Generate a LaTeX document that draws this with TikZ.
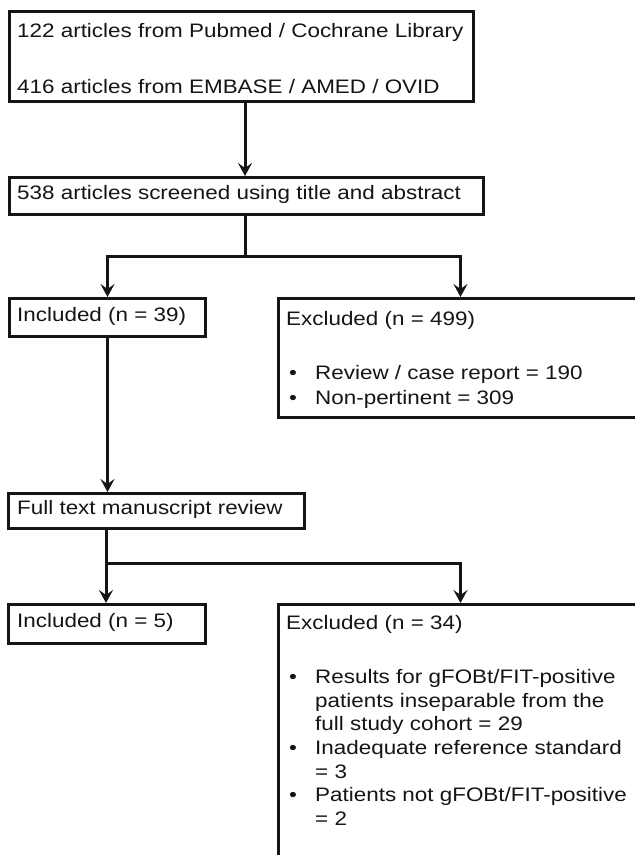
\documentclass[tikz,border=0pt]{standalone}
\usepackage{fontspec}
\setmainfont{Liberation Sans}[FakeStretch=1.15]
\usetikzlibrary{arrows.meta}
\definecolor{ink}{HTML}{151515}
\begin{document}
\begin{tikzpicture}[x=1pt,y=-1pt,
  box/.style={draw=ink, line width=3pt, rectangle, inner sep=0pt, anchor=north west},
  txt/.style={text=ink, inner sep=0pt, align=left, font=\fontsize{19.5}{24}\selectfont},
  conn/.style={draw=ink, line width=3pt, line join=miter},
  arr/.style={conn, -{Stealth[length=13pt,width=14pt,inset=5pt]}}]
\fill[white] (0,0) rectangle (635,855);
\useasboundingbox (0,0) rectangle (635,855);
\clip (0,0) rectangle (635,855);

% boxes
\node[box, minimum width=464pt, minimum height=90pt]  (b1)   at (8,10)   {};
\node[box, minimum width=474pt, minimum height=37pt]  (b2)   at (8,176)  {};
\node[box, minimum width=196pt, minimum height=38pt]  (inc1) at (8,297)  {};
\node[box, minimum width=364pt, minimum height=119pt] (exc1) at (277,297) {};
\node[box, minimum width=296pt, minimum height=35pt]  (full) at (7,492)  {};
\node[box, minimum width=197pt, minimum height=39pt]  (inc2) at (7,603)  {};
\node[box, minimum width=364pt, minimum height=297pt] (exc2) at (277,603) {};

% texts
\node[txt, anchor=west] (t1) at (17,59) {122 articles from Pubmed / Cochrane Library\\[32pt]416 articles from EMBASE / AMED / OVID};
\node[txt, anchor=west] (t2) at (17,194.5) {538 articles screened using title and abstract};
\node[txt, anchor=west] (t3) at (17,316) {Included (n = 39)};
\node[txt, anchor=north west] (t4) at (286,311) {Excluded (n = 499)};
\node[txt, anchor=north west, font=\fontsize{19.5}{25}\selectfont] (t5) at (289,365)
  {\makebox[26pt][l]{•}Review / case report = 190\\\makebox[26pt][l]{•}Non-pertinent = 309};
\node[txt, anchor=west] (t6) at (17,509.5) {Full text manuscript review};
\node[txt, anchor=west] (t7) at (17,622.5) {Included (n = 5)};
\node[txt, anchor=north west] (t8) at (286,615) {Excluded (n = 34)};
\node[txt, anchor=north west, font=\fontsize{19.5}{23.7}\selectfont] (t9) at (289,669)
  {\makebox[26pt][l]{•}Results for gFOBt/FIT-positive\\
   \hspace*{26pt}patients inseparable from the\\
   \hspace*{26pt}full study cohort = 29\\
   \makebox[26pt][l]{•}Inadequate reference standard\\
   \hspace*{26pt}= 3\\
   \makebox[26pt][l]{•}Patients not gFOBt/FIT-positive\\
   \hspace*{26pt}= 2};

% connectors
\coordinate (x1) at (245,0);
\coordinate (s1) at (245,256);
\coordinate (s2) at (106,563);
\draw[arr] (b1.south -| x1) -- (b2.north -| x1);
\draw[conn] (b2.south -| s1) -- (s1);
\draw[arr] (s1) -| (inc1.north);
\draw[arr] (s1) -| (exc1.north);
\draw[arr] (inc1.south) -- (inc1.south |- full.north);
\draw[conn] (full.south -| s2) -- (s2);
\draw[arr] (s2) -- (s2 |- inc2.north);
\draw[arr] (s2) -| (exc2.north);
\end{tikzpicture}
\end{document}
